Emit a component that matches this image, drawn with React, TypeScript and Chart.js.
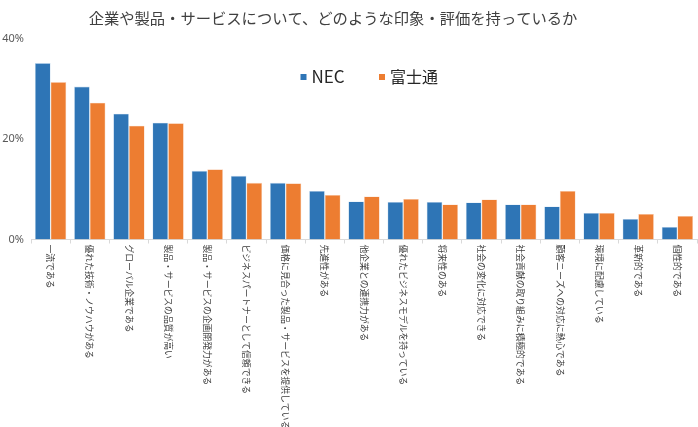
import { useEffect, useRef } from 'react';
import { Chart, registerables } from 'chart.js';

Chart.register(...registerables);

const titleText = '企業や製品・サービスについて、どのような印象・評価を持っているか';

const categories = [
  '一流である',
  '優れた技術・ノウハウがある',
  'グローバル企業である',
  '製品・サービスの品質が高い',
  '製品・サービスの企画開発力がある',
  'ビジネスパートナーとして信頼できる',
  '価格に見合った製品・サービスを提供している',
  '先進性がある',
  '他企業との連携力がある',
  '優れたビジネスモデルを持っている',
  '将来性のある',
  '社会の変化に対応できる',
  '社会貢献の取り組みに積極的である',
  '顧客ニーズへの対応に熱心である',
  '環境に配慮している',
  '革新的である',
  '個性的である',
];

const seriesNames = ['NEC', '富士通'];
const necValues = [35.2, 30.5, 25.1, 23.3, 13.7, 12.7, 11.3, 9.7, 7.6, 7.5, 7.5, 7.4, 7.0, 6.6, 5.3, 4.1, 2.5];
const fujitsuValues = [31.4, 27.3, 22.7, 23.2, 14.0, 11.3, 11.2, 8.9, 8.6, 8.1, 7.0, 8.0, 7.0, 9.7, 5.3, 5.1, 4.7];
const yTickValues = [0, 20, 40];

const BLUE = '#2e75b6';
const ORANGE = '#ed7d31';
const CJK = '"Noto Sans CJK JP", "Noto Sans", sans-serif';

const decorPlugin = {
  id: 'decor',
  afterDraw(chart: any) {
    const ctx = chart.ctx as CanvasRenderingContext2D;
    const xScale = chart.scales.x;
    // title
    ctx.save();
    ctx.fillStyle = '#404040';
    ctx.font = `15.3px ${CJK}`;
    ctx.textAlign = 'center';
    ctx.textBaseline = 'middle';
    ctx.fillText(titleText, 333, 18);
    ctx.restore();

    // rotated category labels (top to bottom)
    ctx.save();
    ctx.fillStyle = '#404040';
    ctx.font = `8.8px ${CJK}`;
    ctx.textAlign = 'left';
    ctx.textBaseline = 'middle';
    categories.forEach((label, i) => {
      const x = xScale.getPixelForValue(i);
      ctx.save();
      ctx.translate(x, xScale.top + 5);
      ctx.rotate(Math.PI / 2);
      ctx.fillText(label, 0, 0);
      ctx.restore();
    });
    ctx.restore();

    // legend
    ctx.save();
    const items = chart.data.datasets.map((d: any) => ({ label: d.label, color: d.backgroundColor }));
    const starts = [300.5, 379];
    const sizes = [17, 16];
    items.forEach((it: any, i: number) => {
      const bx = starts[i];
      const cy = 77;
      ctx.fillStyle = it.color;
      ctx.fillRect(bx, cy - 3, 6, 6);
      ctx.fillStyle = '#262626';
      ctx.font = `${sizes[i]}px ${CJK}`;
      ctx.textAlign = 'left';
      ctx.textBaseline = 'middle';
      ctx.fillText(it.label, bx + 11, cy);
    });
    ctx.restore();
  },
};

export default function App() {
  const ref = useRef<HTMLCanvasElement | null>(null);

  useEffect(() => {
    document.body.style.margin = '0';
    if (!ref.current) return;
    const chart = new Chart(ref.current, {
      type: 'bar',
      data: {
        labels: categories,
        datasets: [
          {
            label: seriesNames[0],
            data: necValues,
            backgroundColor: BLUE,
            borderColor: 'rgba(189,215,238,0.9)',
            borderWidth: 0.6,
            categoryPercentage: 0.8,
            barPercentage: 1.0,
          },
          {
            label: seriesNames[1],
            data: fujitsuValues,
            backgroundColor: ORANGE,
            borderColor: 'rgba(248,203,173,0.9)',
            borderWidth: 0.6,
            categoryPercentage: 0.8,
            barPercentage: 1.0,
          },
        ],
      },
      options: {
        responsive: false,
        animation: false,
        devicePixelRatio: 1,
        layout: { padding: { top: 39, right: 1, left: 0, bottom: 0 } },
        plugins: {
          legend: { display: false },
          title: { display: false },
          tooltip: { enabled: false },
        },
        scales: {
          x: {
            grid: {
              display: true,
              drawOnChartArea: false,
              drawTicks: true,
              tickLength: 4,
              color: '#d9d9d9',
              offset: true,
            },
            border: { display: true, color: '#d9d9d9', width: 1 },
            ticks: { display: false },
            afterFit: (scale: any) => {
              scale.height = 187.5;
            },
          },
          y: {
            min: 0,
            max: 40,
            afterBuildTicks: (scale: any) => {
              scale.ticks = yTickValues.map((v) => ({ value: v }));
            },
            grid: { display: false, drawTicks: false },
            border: { display: false },
            ticks: {
              padding: 7,
              color: '#595959',
              font: { size: 11, family: '"Noto Sans", "Open Sans", sans-serif' },
              callback: (v: any) => `${v}%`,
            },
            afterFit: (scale: any) => {
              scale.width = 31;
            },
          },
        },
      },
      plugins: [decorPlugin],
    });
    return () => chart.destroy();
  }, []);

  return (
    <div style={{ width: 698, height: 427, background: '#fff' }}>
      <canvas ref={ref} width={698} height={427} style={{ display: 'block' }} />
    </div>
  );
}
